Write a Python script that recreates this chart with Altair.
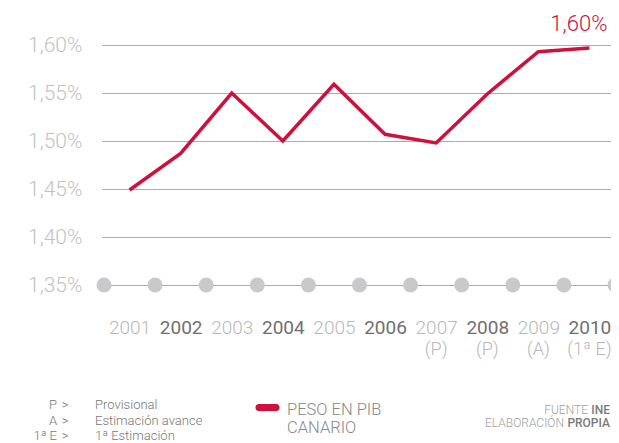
import altair as alt
import pandas as pd

# ---- data ----
years = [2001, 2002, 2003, 2004, 2005, 2006, 2007, 2008, 2009, 2010]
peso = [1.449, 1.487, 1.550, 1.500, 1.559, 1.507, 1.498, 1.549, 1.593, 1.597]
notes = ["", "", "", "", "", "", "(P)", "(P)", "(A)", "(1ª E)"]
dot_x = [2000.5, 2001.5, 2002.5, 2003.5, 2004.5, 2005.5, 2006.5, 2007.5, 2008.5, 2009.5, 2010.5]
y_ticks = [1.35, 1.40, 1.45, 1.50, 1.55, 1.60]
last_label = "1,60%"
series_name = ["PESO EN PIB", "CANARIO"]
note_keys = ["P", "A", "1ª E"]
note_desc = ["Provisional", "Estimación avance", "1ª Estimación"]
source_light = ["FUENTE", "ELABORACIÓN"]
source_dark = ["INE", "PROPIA"]

RED = "#d0103c"
LIGHT = "#b8b8b8"
DARK = "#707070"
FONT = "Roboto"

df = pd.DataFrame({"year": years, "peso": peso, "note": notes})
dots = pd.DataFrame({"x": dot_x, "y": [y_ticks[0]] * len(dot_x)})

xscale = alt.Scale(domain=[2000.461, 2010.422], nice=False, zero=False)
yscale = alt.Scale(domain=[1.35, 1.60], nice=False, zero=False)

base = alt.Chart(df)

line = base.mark_line(color=RED, strokeWidth=3.5, strokeJoin="miter").encode(
    x=alt.X(
        "year:Q",
        scale=xscale,
        title=None,
        axis=alt.Axis(
            values=years,
            format="d",
            grid=False,
            domain=False,
            ticks=False,
            labelFont=FONT,
            labelFontSize=19,
            labelFontWeight={"condition": {"test": "datum.value % 2 === 0", "value": 400}, "value": 300},
            labelBaseline="middle",
            labelPadding=42,
            labelColor={"condition": {"test": "datum.value % 2 === 0", "value": DARK}, "value": LIGHT},
            labelFlush=False,
            labelOverlap=False,
        ),
    ),
    y=alt.Y(
        "peso:Q",
        scale=yscale,
        title=None,
        axis=alt.Axis(
            values=y_ticks,
            labelExpr="replace(format(datum.value, '.2f'), '.', ',') + '%'",
            grid=True,
            gridColor="#ababab",
            gridWidth=1,
            domain=False,
            ticks=False,
            labelFont=FONT,
            labelFontSize=21,
            labelFontWeight=300,
            labelColor="#c2c2c2",
            labelPadding=20,
            labelFlush=False,
        ),
    ),
)

dot_layer = alt.Chart(dots).mark_circle(color="#c9c9cb", opacity=1, size=225).encode(
    x=alt.X("x:Q", scale=xscale), y=alt.Y("y:Q", scale=yscale)
)

note_layer = base.mark_text(
    font=FONT, fontSize=18, fontWeight=300, color=LIGHT, baseline="middle", dy=65
).encode(
    x=alt.X("year:Q", scale=xscale),
    y=alt.Y("ybase:Q", scale=yscale),
    text="note:N",
).transform_calculate(ybase=str(y_ticks[0]))

last_layer = alt.Chart(df.tail(1)).mark_text(
    font=FONT, fontSize=22, fontWeight=300, color=RED, align="right", baseline="middle", dx=18, dy=-24
).encode(
    x=alt.X("year:Q", scale=xscale),
    y=alt.Y("peso:Q", scale=yscale),
    text=alt.value(last_label),
)

layers = [dot_layer, line, note_layer, last_layer]

one = pd.DataFrame({"a": [0]})

def txt(text, x, y, size, color, align="left", weight=300):
    return alt.Chart(one).mark_text(
        font=FONT, fontSize=size, fontWeight=weight, color=color, align=align, baseline="middle"
    ).encode(x=alt.value(x), y=alt.value(y), text=alt.value(text))

# footnotes (plot coordinates: page minus (102, 45))
for i, (k, d) in enumerate(zip(note_keys, note_desc)):
    yy = 360 + i * 15.5
    layers.append(txt(k, -45, yy, 13, "#777777", align="right"))
    layers.append(txt(">", -37, yy, 13, "#777777", align="center"))
    layers.append(txt(d, -7, yy, 13, "#777777"))

# legend
legend_sym = alt.Chart(one).mark_rule(color=RED, strokeWidth=7, strokeCap="round").encode(
    x=alt.value(157), x2=alt.value(174), y=alt.value(362.5)
)
layers.append(legend_sym)
for i, s in enumerate(series_name):
    layers.append(txt(s, 185, 365 + i * 18, 16.5, "#888888"))

# source
for i, (l, d) in enumerate(zip(source_light, source_dark)):
    yy = 365 + i * 13
    layers.append(txt(d, 508, yy, 12, "#7a7a7a", align="right", weight=500))
    layers.append(txt(l, 486 if i == 0 else 462, yy, 12, "#a0a0a0", align="right"))

chart = alt.layer(*layers).properties(
    width=509,
    height=240,
    autosize=alt.AutoSizeParams(type="none"),
    padding={"left": 94, "top": 37, "right": 0, "bottom": 158},
    background="white",
).configure_view(stroke=None)

chart.save("out.html", embed_options={"renderer": "svg", "actions": False})
